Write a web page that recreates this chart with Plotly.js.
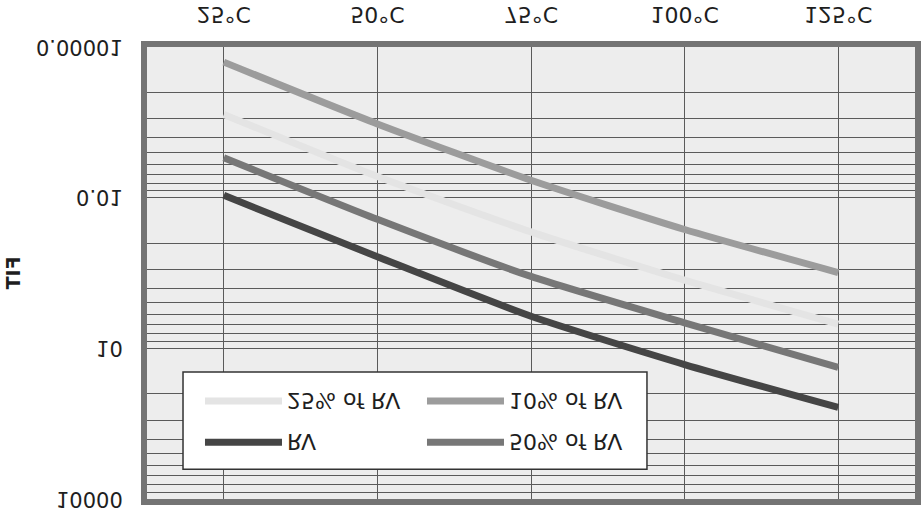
<!DOCTYPE html>
<html><head><meta charset="utf-8">
<script src="https://cdn.plot.ly/plotly-3.0.1.min.js"></script>
<style>
html,body{margin:0;padding:0;background:#fff;}
#chart{width:922px;height:514px;transform:scaleY(-1);transform-origin:50% 50%;}
</style></head><body><div id="chart"></div>
<script>
// Data (the reference is a vertically mirrored scan; the chart is built upright and mirrored with CSS)
const temperatures = [25, 50, 75, 100, 125];
const temperatureLabels = ['25°C', '50°C', '75°C', '100°C', '125°C'];
const seriesNames = ['RV', '50% of RV', '25% of RV', '10% of RV'];
const fitRV = [0.009, 0.15, 2.3, 21, 150];
const fit50 = [0.0016, 0.027, 0.37, 3.1, 24];
const fit25 = [0.00022, 0.0038, 0.048, 0.44, 3.3];
const fit10 = [0.00002, 0.00034, 0.0045, 0.043, 0.31];
const yLabelVals = [0.00001, 0.01, 10, 10000];
const yLabelText = ['0.00001', '0.01', '10', '10000'];

// minor grid: each labelled step (x1000) is split like a log decade
const minorVals = [];
for (let i = 0; i < yLabelVals.length - 1; i++) {
  for (let k = 2; k <= 9; k++) minorVals.push(yLabelVals[i] * Math.pow(k, 3));
}

const font = 'DejaVu Sans, sans-serif';
const seriesData = [fitRV, fit50, fit25, fit10];
const colors = ['#454545', '#777777', '#e4e4e4', '#9c9c9c'];
const legendIds = ['legend', 'legend', 'legend2', 'legend2'];

const traces = seriesNames.map((name, i) => ({
  type: 'scatter', mode: 'lines', name: name,
  x: temperatures, y: seriesData[i],
  line: {color: colors[i], width: 7, shape: 'spline', smoothing: 0.6},
  legend: legendIds[i], hoverinfo: 'x+y+name'
}));

const legendCommon = {
  orientation: 'h', xanchor: 'left', yanchor: 'middle',
  bgcolor: 'rgba(0,0,0,0)', borderwidth: 0,
  font: {family: font, size: 22, color: '#1e1e1e'},
  itemwidth: 77, entrywidth: 130, traceorder: 'normal'
};

const layout = {
  width: 922, height: 514,
  margin: {l: 147, r: 7, t: 15, b: 47},
  paper_bgcolor: '#ffffff',
  plot_bgcolor: '#ededed',
  showlegend: true,
  legend: Object.assign({}, legendCommon, {x: 0.069, y: 0.874}),
  legend2: Object.assign({}, legendCommon, {x: 0.069, y: 0.783}),
  xaxis: {
    type: 'linear', range: [12.5, 137.5],
    tickmode: 'array', tickvals: temperatures, ticktext: temperatureLabels,
    showgrid: true, gridcolor: '#5a5a5a', gridwidth: 1,
    zeroline: false, showline: true, mirror: true, linecolor: '#747474', linewidth: 6,
    ticks: 'outside', ticklen: 8, tickcolor: 'rgba(0,0,0,0)',
    tickfont: {family: font, size: 22, color: '#1e1e1e'}
  },
  yaxis: {
    type: 'log', range: [-5, 4],
    tickmode: 'array', tickvals: yLabelVals, ticktext: yLabelText,
    showgrid: true, gridcolor: '#5a5a5a', gridwidth: 1,
    minor: {tickmode: 'array', tickvals: minorVals, showgrid: true, gridcolor: '#5a5a5a', gridwidth: 1, ticks: ''},
    zeroline: false, showline: true, mirror: true, linecolor: '#747474', linewidth: 6,
    ticks: 'outside', ticklen: 14, tickcolor: 'rgba(0,0,0,0)',
    tickfont: {family: font, size: 21, color: '#1e1e1e'},
    title: {text: 'FIT', font: {family: font, size: 19, color: '#1e1e1e', weight: 'bold'}, standoff: 12}
  },
  shapes: [{
    type: 'rect', xref: 'paper', yref: 'paper', layer: 'above',
    x0: 0.0469, x1: 0.651, y0: 0.719, y1: 0.934,
    fillcolor: '#ffffff', line: {color: '#333333', width: 1.5}
  }]
};

Plotly.newPlot('chart', traces, layout, {displayModeBar: false, responsive: false});
</script></body></html>
